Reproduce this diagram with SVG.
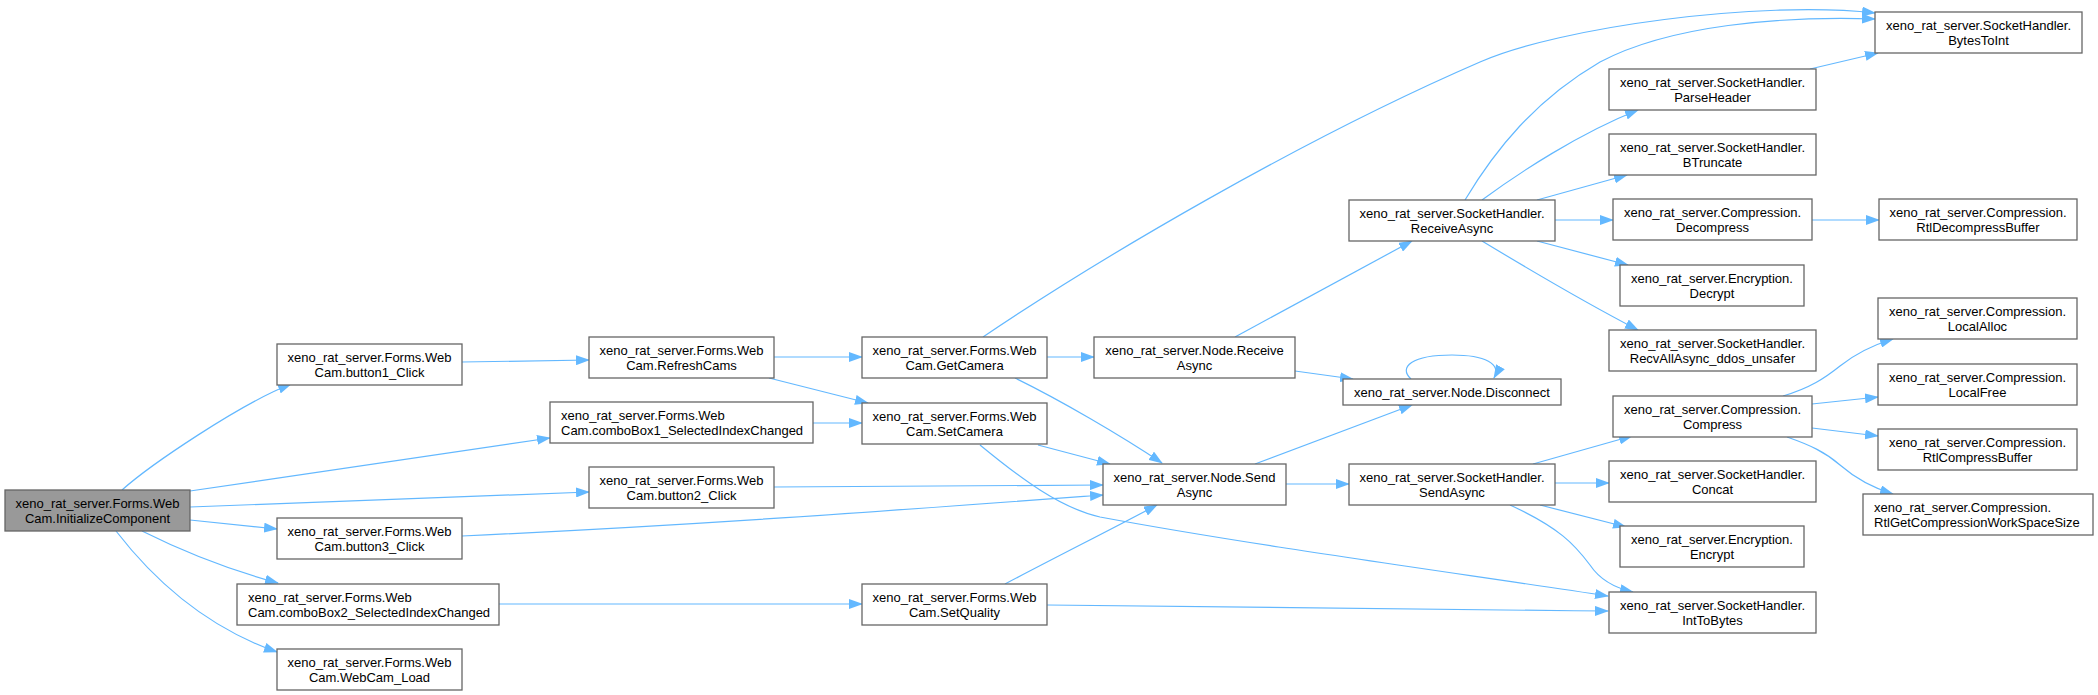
<svg xmlns="http://www.w3.org/2000/svg" width="2098" height="695" viewBox="0 0 2098 695">
<style>
.n rect{fill:#fff;stroke:#666;stroke-width:1.3}
.n.root rect{fill:#999}
.n text{font-family:"Liberation Sans",Arial,Helvetica,sans-serif;font-size:13px;fill:#000;text-anchor:middle}
.n text.l{text-anchor:start}
.e path{fill:none;stroke:#63b8ff;stroke-width:1.2;marker-end:url(#ah)}
</style>
<defs>
<marker id="ah" markerUnits="userSpaceOnUse" markerWidth="14" markerHeight="10" viewBox="0 0 14 10" refX="13" refY="5" orient="auto">
<path d="M0,0 L14,5 L0,10 Z" fill="#63b8ff"/>
</marker>
</defs>
<rect width="2098" height="695" fill="#fff"/>
<g id="edges" class="e">
<path d="M122,490 C150,465 240,404 291,384"/>
<path d="M190,491 L550,438"/>
<path d="M190,507 C350,502 480,496 589,492"/>
<path d="M190,520 L277,529"/>
<path d="M142,531 C180,550 230,570 278,583"/>
<path d="M116,531 C150,575 200,625 277,652"/>
<path d="M462,362 L589,360"/>
<path d="M774,357 L862,357"/>
<path d="M769,378 L868,403"/>
<path d="M813,423 L862,423"/>
<path d="M774,487 L1103,485"/>
<path d="M462,536 C700,525 900,510 1103,495"/>
<path d="M499,604 L862,604"/>
<path d="M983,337 C1100,258 1300,140 1480,62 C1560,27 1760,0 1875,13"/>
<path d="M1047,357 L1094,357"/>
<path d="M1015,378 C1060,400 1120,435 1162,463"/>
<path d="M1038,445 L1110,464"/>
<path d="M980,445 C1020,478 1060,508 1100,517 C1250,545 1450,572 1608,596"/>
<path d="M1005,584 C1060,555 1110,530 1157,505"/>
<path d="M1047,605 C1300,608 1450,610 1608,611"/>
<path d="M1235,337 L1412,241"/>
<path d="M1295,371 L1353,379"/>
<path d="M1255,464 L1412,405"/>
<path d="M1286,484 L1349,484"/>
<path d="M1411,379 C1398,367 1412,355 1452,355 C1485,355 1502,364 1494,378"/>
<path d="M1465,200 C1495,150 1535,100 1600,62 C1670,25 1780,16 1875,19"/>
<path d="M1482,200 C1520,172 1580,133 1638,110"/>
<path d="M1537,200 L1627,175"/>
<path d="M1555,220 L1613,220"/>
<path d="M1537,241 L1628,265"/>
<path d="M1482,241 C1530,270 1590,305 1638,330"/>
<path d="M1810,69 L1878,53"/>
<path d="M1812,220 L1879,220"/>
<path d="M1533,464 L1632,436"/>
<path d="M1555,483 L1609,483"/>
<path d="M1540,505 L1626,527"/>
<path d="M1510,505 C1560,528 1575,545 1590,565 C1600,580 1615,588 1633,592"/>
<path d="M1783,396 C1810,388 1825,378 1840,366 C1855,354 1870,346 1893,339"/>
<path d="M1812,404 L1878,397"/>
<path d="M1812,428 L1878,436"/>
<path d="M1787,437 C1810,445 1825,452 1840,465 C1855,478 1870,487 1893,494"/>
</g>
<g id="n_init" class="n root"><rect x="5" y="490" width="185" height="41"/><text x="97.5" y="507.5">xeno_rat_server.Forms.Web</text><text x="97.5" y="522.5">Cam.InitializeComponent</text></g>
<g id="n_b1" class="n"><rect x="277" y="344" width="185" height="41"/><text x="369.5" y="361.5">xeno_rat_server.Forms.Web</text><text x="369.5" y="376.5">Cam.button1_Click</text></g>
<g id="n_cb1" class="n"><rect x="550" y="402" width="263" height="41"/><text class="l" x="561" y="419.5">xeno_rat_server.Forms.Web</text><text class="l" x="561" y="434.5">Cam.comboBox1_SelectedIndexChanged</text></g>
<g id="n_b2" class="n"><rect x="589" y="467" width="185" height="41"/><text x="681.5" y="484.5">xeno_rat_server.Forms.Web</text><text x="681.5" y="499.5">Cam.button2_Click</text></g>
<g id="n_b3" class="n"><rect x="277" y="518" width="185" height="41"/><text x="369.5" y="535.5">xeno_rat_server.Forms.Web</text><text x="369.5" y="550.5">Cam.button3_Click</text></g>
<g id="n_cb2" class="n"><rect x="237" y="584" width="262" height="41"/><text class="l" x="248" y="601.5">xeno_rat_server.Forms.Web</text><text class="l" x="248" y="616.5">Cam.comboBox2_SelectedIndexChanged</text></g>
<g id="n_load" class="n"><rect x="277" y="649" width="185" height="41"/><text x="369.5" y="666.5">xeno_rat_server.Forms.Web</text><text x="369.5" y="681.5">Cam.WebCam_Load</text></g>
<g id="n_refresh" class="n"><rect x="589" y="337" width="185" height="41"/><text x="681.5" y="354.5">xeno_rat_server.Forms.Web</text><text x="681.5" y="369.5">Cam.RefreshCams</text></g>
<g id="n_getcam" class="n"><rect x="862" y="337" width="185" height="41"/><text x="954.5" y="354.5">xeno_rat_server.Forms.Web</text><text x="954.5" y="369.5">Cam.GetCamera</text></g>
<g id="n_setcam" class="n"><rect x="862" y="403" width="185" height="41"/><text x="954.5" y="420.5">xeno_rat_server.Forms.Web</text><text x="954.5" y="435.5">Cam.SetCamera</text></g>
<g id="n_setq" class="n"><rect x="862" y="584" width="185" height="41"/><text x="954.5" y="601.5">xeno_rat_server.Forms.Web</text><text x="954.5" y="616.5">Cam.SetQuality</text></g>
<g id="n_nrecv" class="n"><rect x="1094" y="337" width="201" height="41"/><text x="1194.5" y="354.5">xeno_rat_server.Node.Receive</text><text x="1194.5" y="369.5">Async</text></g>
<g id="n_nsend" class="n"><rect x="1103" y="464" width="183" height="41"/><text x="1194.5" y="481.5">xeno_rat_server.Node.Send</text><text x="1194.5" y="496.5">Async</text></g>
<g id="n_shrecv" class="n"><rect x="1349" y="200" width="206" height="41"/><text x="1452" y="217.5">xeno_rat_server.SocketHandler.</text><text x="1452" y="232.5">ReceiveAsync</text></g>
<g id="n_disc" class="n"><rect x="1343" y="379" width="218" height="26"/><text x="1452" y="396.8">xeno_rat_server.Node.Disconnect</text></g>
<g id="n_shsend" class="n"><rect x="1349" y="464" width="206" height="41"/><text x="1452" y="481.5">xeno_rat_server.SocketHandler.</text><text x="1452" y="496.5">SendAsync</text></g>
<g id="n_b2i" class="n"><rect x="1875" y="12" width="207" height="41"/><text x="1978.5" y="29.5">xeno_rat_server.SocketHandler.</text><text x="1978.5" y="44.5">BytesToInt</text></g>
<g id="n_parse" class="n"><rect x="1609" y="69" width="207" height="41"/><text x="1712.5" y="86.5">xeno_rat_server.SocketHandler.</text><text x="1712.5" y="101.5">ParseHeader</text></g>
<g id="n_btrunc" class="n"><rect x="1609" y="134" width="207" height="41"/><text x="1712.5" y="151.5">xeno_rat_server.SocketHandler.</text><text x="1712.5" y="166.5">BTruncate</text></g>
<g id="n_decomp" class="n"><rect x="1613" y="199" width="199" height="41"/><text x="1712.5" y="216.5">xeno_rat_server.Compression.</text><text x="1712.5" y="231.5">Decompress</text></g>
<g id="n_decrypt" class="n"><rect x="1620" y="265" width="184" height="41"/><text x="1712" y="282.5">xeno_rat_server.Encryption.</text><text x="1712" y="297.5">Decrypt</text></g>
<g id="n_recvall" class="n"><rect x="1609" y="330" width="207" height="41"/><text x="1712.5" y="347.5">xeno_rat_server.SocketHandler.</text><text x="1712.5" y="362.5">RecvAllAsync_ddos_unsafer</text></g>
<g id="n_comp" class="n"><rect x="1613" y="396" width="199" height="41"/><text x="1712.5" y="413.5">xeno_rat_server.Compression.</text><text x="1712.5" y="428.5">Compress</text></g>
<g id="n_concat" class="n"><rect x="1609" y="461" width="207" height="41"/><text x="1712.5" y="478.5">xeno_rat_server.SocketHandler.</text><text x="1712.5" y="493.5">Concat</text></g>
<g id="n_encrypt" class="n"><rect x="1620" y="526" width="184" height="41"/><text x="1712" y="543.5">xeno_rat_server.Encryption.</text><text x="1712" y="558.5">Encrypt</text></g>
<g id="n_i2b" class="n"><rect x="1609" y="592" width="207" height="41"/><text x="1712.5" y="609.5">xeno_rat_server.SocketHandler.</text><text x="1712.5" y="624.5">IntToBytes</text></g>
<g id="n_rtldecomp" class="n"><rect x="1879" y="199" width="198" height="41"/><text x="1978" y="216.5">xeno_rat_server.Compression.</text><text x="1978" y="231.5">RtlDecompressBuffer</text></g>
<g id="n_lalloc" class="n"><rect x="1878" y="298" width="199" height="41"/><text x="1977.5" y="315.5">xeno_rat_server.Compression.</text><text x="1977.5" y="330.5">LocalAlloc</text></g>
<g id="n_lfree" class="n"><rect x="1878" y="364" width="199" height="41"/><text x="1977.5" y="381.5">xeno_rat_server.Compression.</text><text x="1977.5" y="396.5">LocalFree</text></g>
<g id="n_rtlcomp" class="n"><rect x="1878" y="429" width="199" height="41"/><text x="1977.5" y="446.5">xeno_rat_server.Compression.</text><text x="1977.5" y="461.5">RtlCompressBuffer</text></g>
<g id="n_rtlgcws" class="n"><rect x="1863" y="494" width="230" height="41"/><text class="l" x="1874" y="511.5">xeno_rat_server.Compression.</text><text class="l" x="1874" y="526.5">RtlGetCompressionWorkSpaceSize</text></g>
</svg>
